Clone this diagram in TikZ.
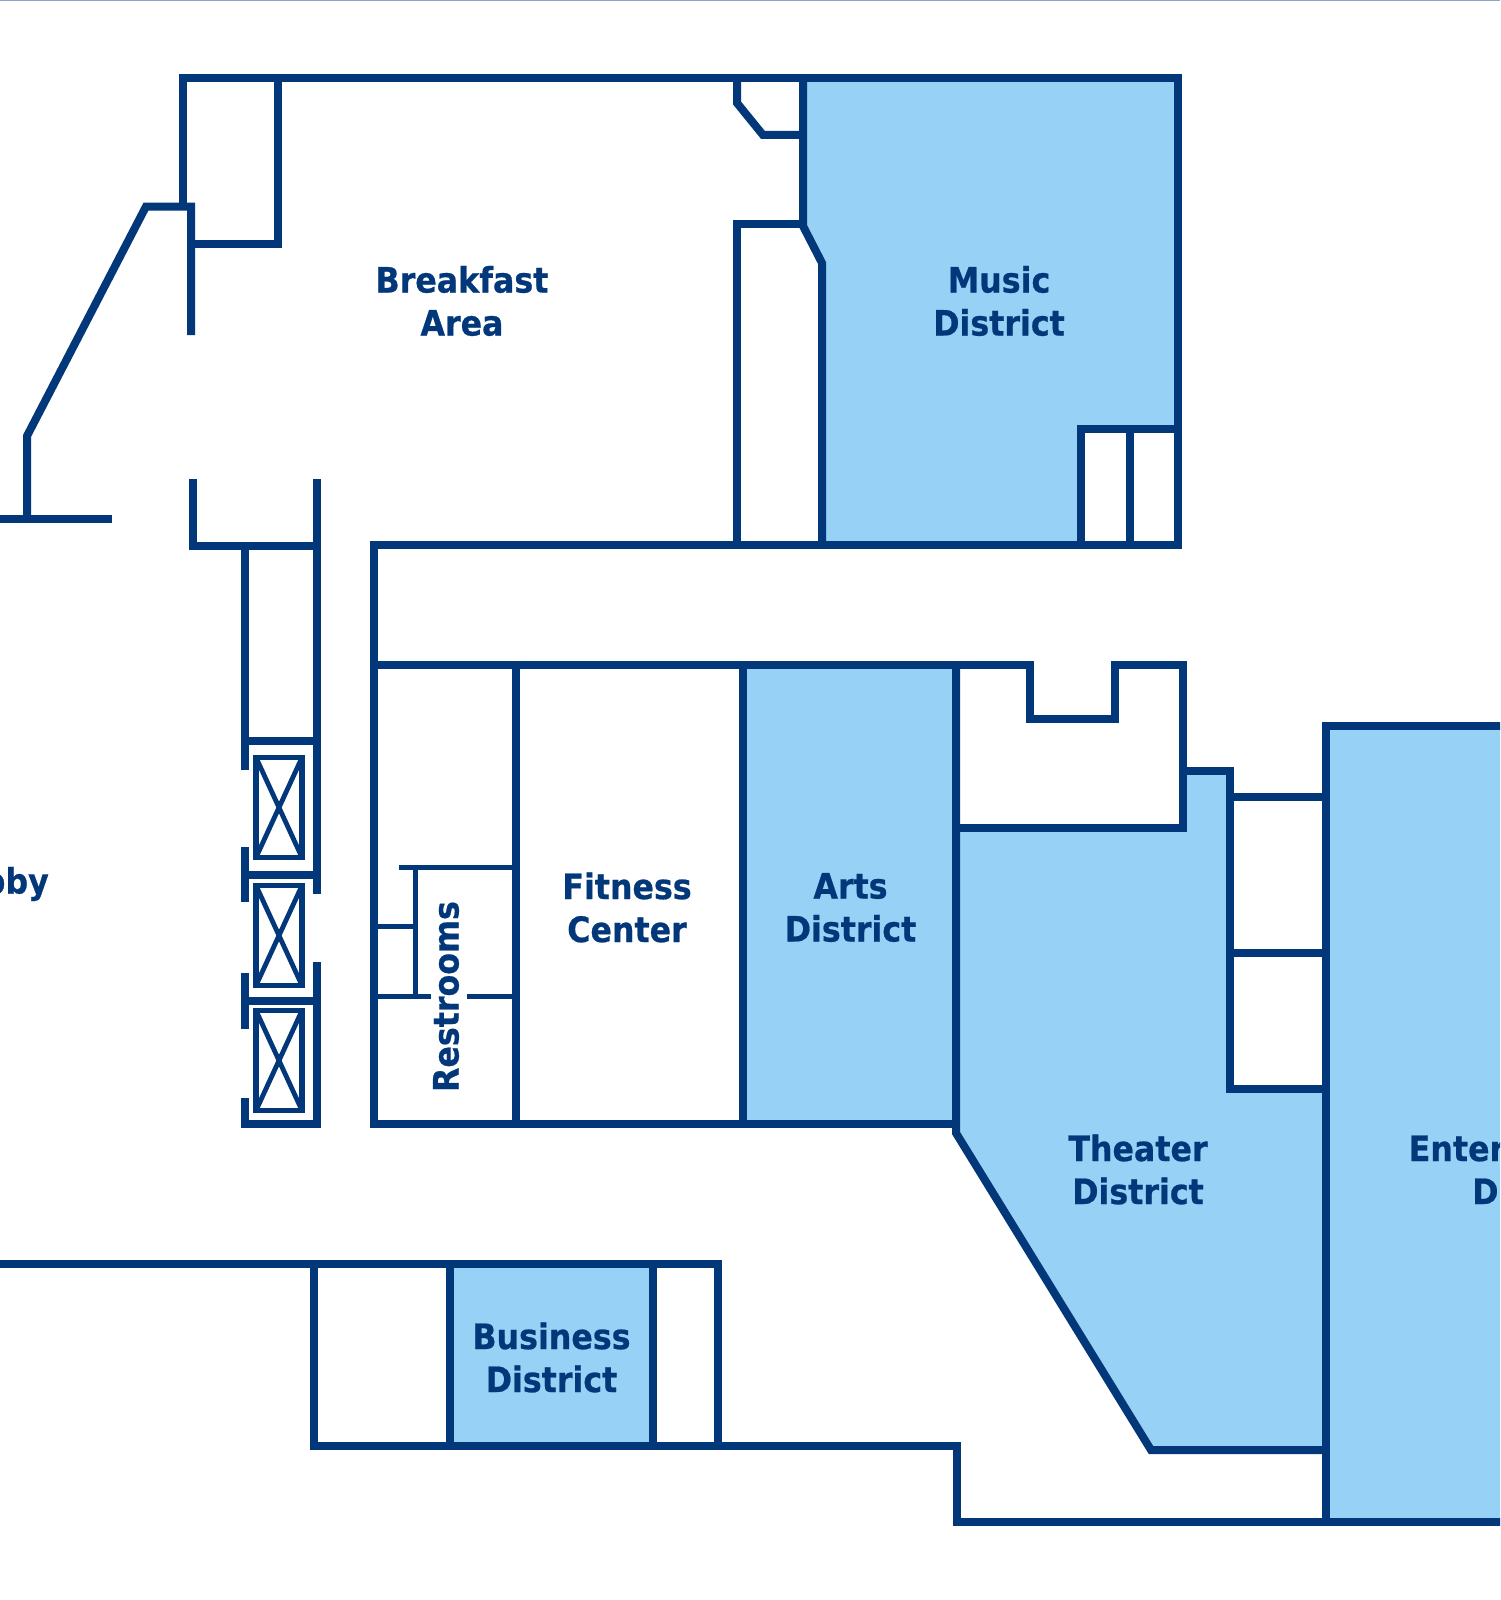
\documentclass[tikz,border=0pt]{standalone}
\usepackage{fontspec}
\setmainfont{DejaVu Sans}[FakeStretch=0.905,BoldFeatures={FakeBold=0.6}]
\definecolor{wall}{HTML}{02377A}
\definecolor{zone}{HTML}{97D1F5}
\definecolor{edge}{HTML}{8FA5C5}
\tikzset{
  wallline/.style={draw=wall,line width=8pt,line join=miter},
  thinwall/.style={draw=wall,line width=5.2pt},
  zonefill/.style={fill=zone,draw=none},
  cabin/.style={draw=wall,line width=5.4pt},
  cabinx/.style={draw=wall,line width=4.8pt},
  roomlabel/.style={text=wall,font=\bfseries\fontsize{35}{43}\selectfont,align=center,inner sep=0pt,anchor=center}
}
\begin{document}
\begin{tikzpicture}[x=1pt,y=-1pt]
\useasboundingbox (0,0) rectangle (1500,1600);
\clip (0,0) rectangle (1500,1600);
\fill[white] (0,0) rectangle (1500,1600);
\draw[draw=edge,line width=1.5pt] (0,0.5) -- (1500,0.5);
% fills
\fill[zonefill] (803,78) -- (1178,78) -- (1178,429) -- (1081,429) -- (1081,545) -- (822,545) -- (822,263) -- (803,226) -- cycle;
\fill[zonefill] (743,664.5) rectangle (956,1124);
\fill[zonefill] (956,828) -- (1183,828) -- (1183,771) -- (1229.5,771) -- (1229.5,1089) -- (1325.5,1089) -- (1325.5,1450) -- (1151,1450) -- (956,1133) -- cycle;
\fill[zonefill] (1325.5,726) rectangle (1510,1522);
\fill[zonefill] (449.5,1264) rectangle (653,1446);
% upper block
\draw[wallline] (191,335) -- (191,206.5) -- (146,206.5) -- (27,436) -- (27,519);
\draw[wallline] (0,519) -- (112,519);
\draw[wallline] (182.5,206) -- (182.5,78) -- (1178,78) -- (1178,545) -- (374,545) -- (374,1124) -- (956,1124);
\draw[wallline] (277.5,78) -- (277.5,244) -- (191,244);
\draw[wallline] (737,78) -- (737,103) -- (763,135) -- (803,135);
\draw[wallline] (803,78) -- (803,226) -- (822,263) -- (822,545);
\draw[wallline] (803,224) -- (737,224) -- (737,545);
\draw[wallline] (1081,545) -- (1081,429) -- (1178,429);
\draw[wallline] (1129.5,429) -- (1129.5,545);
% lobby corridor
\draw[wallline] (193,479) -- (193,546) -- (317,546);
\draw[wallline] (317,479) -- (317,894);
\draw[wallline] (245,546) -- (245,770);
\draw[wallline] (245,740.5) -- (317,740.5);
\draw[wallline] (245,847) -- (245,902);
\draw[wallline] (245,874.5) -- (317,874.5);
\draw[wallline] (245,973) -- (245,1029);
\draw[wallline] (245,1000.5) -- (317,1000.5);
\draw[wallline] (245,1098) -- (245,1124) -- (317,1124) -- (317,962);
% elevators
\foreach \t/\b in {757.5/857.5,885.5/985.5,1010.5/1110.5}{
  \draw[cabin] (256,\t) rectangle (302,\b);
  \draw[cabinx] (256,\t) -- (302,\b);
  \draw[cabinx] (302,\t) -- (256,\b);
}
% middle block
\draw[wallline] (374,664.5) -- (1030,664.5) -- (1030,718.5) -- (1114.5,718.5) -- (1114.5,664.5) -- (1183,664.5) -- (1183,828) -- (956,828);
\draw[wallline] (516,664.5) -- (516,1124);
\draw[wallline] (743,664.5) -- (743,1124);
\draw[wallline] (956,664.5) -- (956,1133) -- (1151,1450) -- (1325.5,1450);
\draw[wallline] (1183,771) -- (1229.5,771) -- (1229.5,1089) -- (1325.5,1089);
\draw[wallline] (1229.5,796.5) -- (1325.5,796.5);
\draw[wallline] (1229.5,953) -- (1325.5,953);
\draw[wallline] (1510,726) -- (1325.5,726) -- (1325.5,1522);
% restrooms
\draw[thinwall] (399,867.5) -- (516,867.5);
\draw[thinwall] (415.5,867.5) -- (415.5,996.5);
\draw[thinwall] (374,926.5) -- (415.5,926.5);
\draw[thinwall] (374,996.5) -- (431,996.5);
\draw[thinwall] (467,996.5) -- (516,996.5);
% lower block
\draw[wallline] (0,1264) -- (718,1264) -- (718,1446);
\draw[wallline] (314,1264) -- (314,1446) -- (957,1446) -- (957,1522) -- (1510,1522);
\draw[wallline] (449.5,1264) -- (449.5,1446);
\draw[wallline] (653,1264) -- (653,1446);
% labels
\node[roomlabel] (breakfast) at (462,301) {Breakfast\\Area};
\node[roomlabel] (music) at (999,301) {Music\\District};
\node[roomlabel] (fitness) at (627,907.5) {Fitness\\Center};
\node[roomlabel] (arts) at (850.5,907.5) {Arts\\District};
\node[roomlabel] (theater) at (1138,1169.5) {Theater\\District};
\node[roomlabel] (enter) at (1538,1169.5) {Entertainment\\District};
\node[roomlabel] (business) at (551.5,1357.5) {Business\\District};
\node[roomlabel,anchor=east] (lobby) at (49,884) {Lobby};
\node[roomlabel,rotate=90] (rest) at (446,996.5) {Restrooms};
\end{tikzpicture}
\end{document}
